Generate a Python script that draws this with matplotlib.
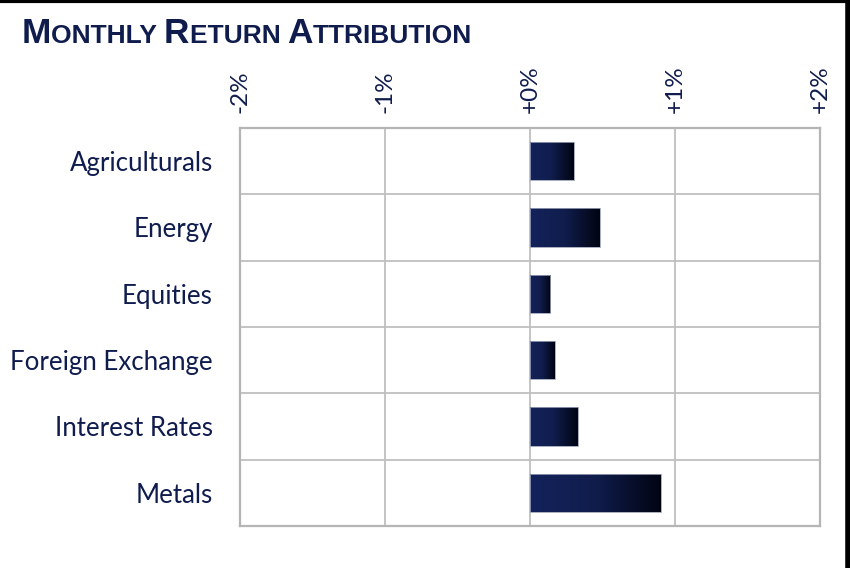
import matplotlib
matplotlib.use("Agg")
import matplotlib.pyplot as plt
import numpy as np
from matplotlib.colors import LinearSegmentedColormap

categories = ["Agriculturals", "Energy", "Equities", "Foreign Exchange", "Interest Rates", "Metals"]
returns_pct = [0.30, 0.48, 0.14, 0.17, 0.33, 0.90]
tick_values = [-2, -1, 0, 1, 2]
tick_labels = ["-2%", "-1%", "+0%", "+1%", "+2%"]
title_parts = [("M", True), ("ONTHLY ", False), ("R", True), ("ETURN ", False), ("A", True), ("TTRIBUTION", False)]

navy = "#0f1c4d"
grid_col = "#bfbfbf"

fig = plt.figure(figsize=(8.5, 5.68), dpi=100)
ax = fig.add_axes([240/850, 1-526/568, 580/850, 398/568])

y = np.arange(len(categories))
bars = ax.barh(y, returns_pct, height=0.58, color="none", edgecolor="#9aa0b5", linewidth=0.6, zorder=3)

cmap = LinearSegmentedColormap.from_list("g", ["#13225b", "#101d4c", "#010412"])
grad = np.linspace(0, 1, 256).reshape(1, -1)
for b in bars:
    x0, y0 = b.get_x(), b.get_y()
    w, h = b.get_width(), b.get_height()
    im = ax.imshow(grad, cmap=cmap, extent=[x0, x0 + w, y0 + h, y0], aspect="auto", zorder=2, interpolation="bilinear")
    im.set_clip_path(b)

ax.set_xlim(-2, 2)
ax.set_ylim(len(categories) - 0.5, -0.5)
ax.set_xticks(tick_values)
ax.set_xticklabels(tick_labels)
ax.set_yticks(y)
ax.set_yticklabels(categories)
ax.set_yticks(np.arange(len(categories) + 1) - 0.5, minor=True)
ax.xaxis.tick_top()
ax.tick_params(axis="x", which="both", length=0, pad=11, labelrotation=90, labelsize=17.5, labelcolor=navy)
ax.tick_params(axis="y", which="both", length=0, pad=19.5, labelsize=18.6, labelcolor=navy)
for lab in ax.get_xticklabels() + ax.get_yticklabels():
    lab.set_family("Lato")
ax.grid(axis="x", which="major", color=grid_col, linewidth=1.3, zorder=1)
ax.grid(axis="y", which="minor", color=grid_col, linewidth=1.3, zorder=1)
ax.grid(axis="y", which="major", visible=False)
for s in ax.spines.values():
    s.set_color("#b5b5b5")
    s.set_linewidth(1.6)
ax.set_axisbelow(True)

# title with small caps
fig.canvas.draw()
prev = None
for txt, big in title_parts:
    size = 25.4 if big else 19.0
    if prev is None:
        prev = fig.text(22/850, 1-43/568, txt, fontsize=size, fontweight="bold", family="Liberation Sans",
                        color=navy, ha="left", va="baseline")
    else:
        prev = fig.text(0, 0, txt, fontsize=size, fontweight="bold", family="Liberation Sans",
                        color=navy, ha="left", va="baseline")
        fig.canvas.draw()
        bb = ann_prev.get_window_extent()
        prev.set_position((bb.x1 / fig.bbox.width, 1-43/568))
    ann_prev = prev
    fig.canvas.draw()

# frame: black top and right edges
fig.add_artist(plt.Line2D([0, 1], [1 - 1/568, 1 - 1/568], transform=fig.transFigure, color="black", linewidth=3))
fig.add_artist(plt.Line2D([1 - 2/850, 1 - 2/850], [0, 1], transform=fig.transFigure, color="black", linewidth=4))

fig.savefig("out.png", dpi=100)
